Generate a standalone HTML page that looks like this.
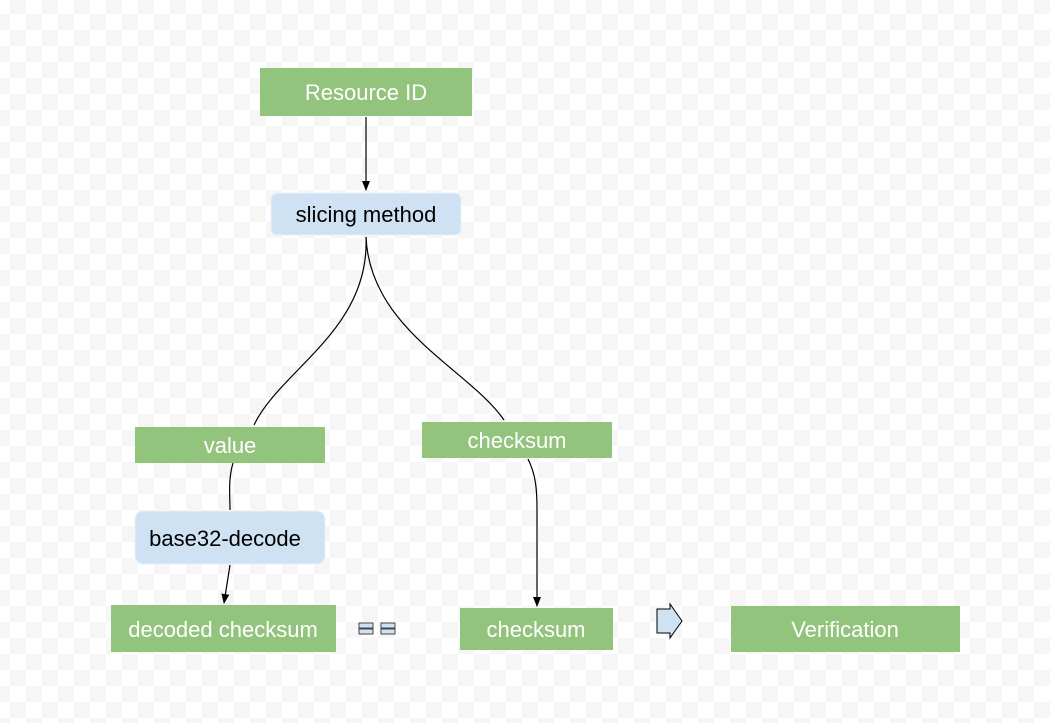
<!DOCTYPE html>
<html><head><style>
html,body{margin:0;padding:0;}
body{width:1050px;height:723px;overflow:hidden;background-color:#fff;
background-image:linear-gradient(45deg,#f6f6f6 25%,transparent 25%,transparent 75%,#f6f6f6 75%),linear-gradient(45deg,#f6f6f6 25%,transparent 25%,transparent 75%,#f6f6f6 75%);
background-size:32px 32px;background-position:-6px -2px,10px 14px;}
text{font-family:"Liberation Sans",Arial,sans-serif;font-size:22px;}
</style></head><body>
<svg width="1050" height="723" viewBox="0 0 1050 723" xmlns="http://www.w3.org/2000/svg" style="position:absolute;left:0;top:0">
<defs><marker id="a" markerWidth="10" markerHeight="10" refX="9" refY="5" orient="auto" markerUnits="userSpaceOnUse"><path d="M0,1 L10,5 L0,9 z" fill="#000"/></marker></defs>
<g fill="none" stroke="#000" stroke-width="1.2">
<path d="M366,117 L366,190" marker-end="url(#a)"/>
<path d="M366,237 C370,330 280,370 254,425"/>
<path d="M366,237 C370,330 470,370 504,420"/>
<path d="M233,463 C228,480 230,495 230,510"/>
<path d="M528,459 C536,475 537,490 537,510 L537,606" marker-end="url(#a)"/>
<path d="M230,565 L224,603" marker-end="url(#a)"/>
</g>
<g fill="#93c47d">
<rect x="260" y="68" width="212" height="48"/>
<rect x="135" y="427" width="190" height="36"/>
<rect x="422" y="422" width="190" height="36"/>
<rect x="111" y="605" width="225" height="47"/>
<rect x="460" y="608" width="153" height="42"/>
<rect x="731" y="606" width="229" height="46"/>
</g>
<g fill="#cfe2f3" stroke="#e8f1fa">
<rect x="271" y="193" width="190" height="42" rx="6"/>
<rect x="135" y="511" width="190" height="53" rx="8"/>
</g>
<path d="M657,609 L670,609 L670,604 L682,621 L670,638 L670,633 L657,633 Z" fill="#cfe2f3" stroke="#000" stroke-width="1"/>
<g fill="#cfe2f3" stroke="#444" stroke-width="1">
<rect x="359" y="623" width="14" height="5"/><rect x="359" y="629" width="14" height="5"/>
<rect x="381" y="623" width="14" height="5"/><rect x="381" y="629" width="14" height="5"/>
</g>
<g fill="#fff" text-anchor="middle">
<text x="366" y="100">Resource ID</text>
<text x="230" y="453">value</text>
<text x="517" y="448">checksum</text>
<text x="223" y="637">decoded checksum</text>
<text x="536" y="637">checksum</text>
<text x="845" y="637">Verification</text>
</g>
<g fill="#000" text-anchor="middle">
<text x="366" y="222">slicing method</text>
<text x="225" y="546">base32-decode</text>
</g>
</svg>
</body></html>
